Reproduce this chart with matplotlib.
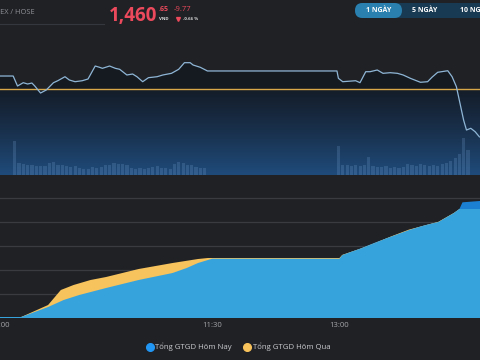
import numpy as np
import matplotlib
matplotlib.use("Agg")
import matplotlib.pyplot as plt
from matplotlib.colors import LinearSegmentedColormap
from matplotlib.patches import FancyBboxPatch
from matplotlib.lines import Line2D

plt.rcParams['font.family'] = ['Open Sans', 'DejaVu Sans']

# ---------------- data ----------------
index_name = "VNINDEX / HOSE"
ref_price = 1470.42
last_price = 1460.65
change = -9.77
change_pct = -0.66

price_times = ["09:00", "09:15", "09:18", "09:22", "09:25", "09:28", "09:30", "09:34", "09:38",
               "09:43", "09:46", "09:51", "09:54", "09:58", "10:03", "10:07", "10:12", "10:15",
               "10:17", "10:22", "10:26", "10:29", "10:34", "10:38", "10:41", "10:45", "10:49",
               "10:55", "10:59", "11:05", "11:10", "11:14", "11:18", "11:20", "11:25", "11:30",
               "13:00", "13:01", "13:04", "13:13", "13:16", "13:20", "13:23", "13:28", "13:32",
               "13:37", "13:42", "13:46", "13:51", "13:58", "14:03", "14:06", "14:10", "14:17",
               "14:20", "14:23", "14:26", "14:28", "14:30", "14:33", "14:36", "14:39"]
price_values = [1473.07, 1473.07, 1471.03, 1471.71, 1471.44, 1471.64, 1471.03, 1469.60, 1470.22,
                1471.71, 1472.11, 1472.93, 1472.26, 1471.91, 1472.11, 1472.46, 1475.11, 1474.85,
                1474.64, 1475.11, 1474.64, 1474.44, 1473.28, 1473.48, 1472.93, 1471.91, 1472.73,
                1472.93, 1473.28, 1473.62, 1474.44, 1475.79, 1475.79, 1475.32, 1474.85, 1474.10,
                1474.10, 1472.60, 1471.91, 1472.11, 1471.71, 1473.95, 1473.95, 1474.30, 1473.62,
                1473.75, 1473.62, 1473.28, 1472.60, 1471.79, 1471.91, 1472.81, 1473.83, 1474.15,
                1472.93, 1470.89, 1466.81, 1464.09, 1462.05, 1462.40, 1461.71, 1460.65]

vol_am_start = "09:15"
vol_am = [3500, 1200, 1100, 1000, 1000, 900, 900, 900, 1200, 1300, 1000, 1000, 900, 800, 900,
          700, 600, 600, 800, 700, 800, 1000, 1000, 1200, 1100, 1100, 1000, 700, 600, 700,
          600, 700, 800, 900, 700, 700, 600, 1100, 1300, 1200, 1000, 1000, 800, 700, 700]
vol_pm_start = "13:00"
vol_pm = [3000, 1000, 1000, 900, 1000, 900, 1000, 1900, 900, 800, 800, 900, 700, 800, 700,
          800, 1100, 1000, 900, 1100, 1000, 900, 1000, 900, 1100, 1200, 1400, 1700, 2200,
          3800, 2600]
vol_step = 3  # minutes per bar

today_times = ["09:00", "09:15", "09:34", "09:45", "09:56", "10:15", "10:38", "11:02", "11:12",
               "11:20", "11:30", "13:00", "13:02", "13:15", "13:25", "13:37", "13:49", "14:00",
               "14:10", "14:21", "14:25", "14:27", "14:39"]
today_values = [208, 208, 2292, 3750, 4792, 6250, 7917, 9375, 10417, 11458, 12350, 12350,
                13100, 14500, 15700, 17000, 18300, 19300, 20000, 21875, 22800, 24100, 24375]
yest_times = ["09:00", "09:15", "09:34", "09:43", "09:52", "10:04", "10:15", "10:38", "11:02",
              "11:20", "11:27", "13:00", "13:02", "13:15", "13:25", "13:37", "13:49", "14:00",
              "14:10", "14:21", "14:25", "14:39"]
yest_values = [208, 208, 2708, 5833, 6875, 7917, 8542, 10208, 11458, 12292, 12500, 12500,
               13150, 14450, 15600, 17050, 18400, 19250, 20050, 21900, 22708, 22708]

x_tick_labels = ["09:00", "11:30", "13:00"]
legend_labels = ["Tổng GTGD Hôm Nay", "Tổng GTGD Hôm Qua"]
range_buttons = ["1 NGÀY", "5 NGÀY", "10 NGÀY"]


def tm(s):
    h, m = s.split(":")
    return int(h) * 60 + int(m) - 540  # minutes since 09:00


# ---------------- style ----------------
BG = "#202125"
RED = "#ec4a5c"
LINE = "#8fb6d6"
REFC = "#d9a849"
C_TODAY = "#1b80d2"
C_LIGHT = "#37a3dd"
C_YEST = "#f7c35c"
GRID = "#3a3b40"

XLIM = (5.84, 339.4)

fig = plt.figure(figsize=(4.8, 3.6), dpi=100, facecolor=BG)

# ---------------- upper price panel ----------------
ax1 = fig.add_axes([0, 1 - 175 / 360, 1, 147 / 360])
ax1.set_facecolor(BG)
y_lo, y_hi = 1452.87, 1482.87
pt = np.array([tm(s) for s in price_times], dtype=float)
pv = np.array(price_values)

cmap = LinearSegmentedColormap.from_list("g", ["#141c28", "#19314d", "#1f4b7b"])
ax1.imshow(np.linspace(0, 1, 256).reshape(-1, 1), extent=[XLIM[0], XLIM[1], y_lo, ref_price],
           origin="upper", aspect="auto", cmap=cmap, zorder=0)
ax1.fill_between(pt, pv, ref_price, where=pv >= ref_price, interpolate=True,
                 color="#151a21", lw=0, zorder=1)
ax1.axhline(ref_price, color=REFC, lw=1.0, zorder=3)
ax1.plot(pt, pv, color=LINE, lw=0.9, zorder=4)
ax1.set_xlim(*XLIM)
ax1.set_ylim(y_lo, y_hi)
ax1.axis("off")

ax1v = ax1.twinx()
am_t = [tm(vol_am_start) + vol_step * i for i in range(len(vol_am))]
pm_t = [tm(vol_pm_start) + vol_step * i for i in range(len(vol_pm))]
ax1v.bar(am_t + pm_t, vol_am + vol_pm, width=2.2, align="edge", color="#7aa6d6",
         alpha=0.22, lw=0)
ax1v.set_ylim(0, max(vol_am + vol_pm) * 147 / 37)
ax1v.set_xlim(*XLIM)
ax1v.axis("off")

# ---------------- lower cumulative value panel ----------------
ax2 = fig.add_axes([0, 1 - 318 / 360, 1, 142 / 360])
ax2.set_facecolor(BG)
grid_t = np.linspace(0, 345, 2000)
tv = np.interp(grid_t, [tm(s) for s in today_times], today_values)
yv = np.interp(grid_t, [tm(s) for s in yest_times], yest_values)
ax2.fill_between(grid_t, 0, tv, color=C_TODAY, lw=0, zorder=2)
ax2.fill_between(grid_t, 0, yv, color=C_YEST, lw=0, zorder=3)
ax2.fill_between(grid_t, 0, np.minimum(tv, yv), color=C_LIGHT, lw=0, zorder=4)
ax2.set_xlim(*XLIM)
ax2.set_ylim(0, 29583)
ax2.set_yticks([5000, 10000, 15000, 20000, 25000])
ax2.yaxis.grid(True, color=GRID, lw=0.9)
ax2.set_axisbelow(True)
ax2.tick_params(axis="y", left=False, labelleft=False)
ax2.set_xticks([tm(s) for s in x_tick_labels])
ax2.set_xticklabels(x_tick_labels, color="#a3a4a8", fontsize=5.6)
ax2.tick_params(axis="x", length=0, pad=3)
for s in ax2.spines.values():
    s.set_visible(False)

handles = [Line2D([], [], marker="o", ls="", color="#2196f3", markersize=5.5),
           Line2D([], [], marker="o", ls="", color="#f9c35b", markersize=5.5)]
fig.legend(handles, legend_labels, loc="center", bbox_to_anchor=(238 / 480, 1 - 347 / 360),
           ncol=2, frameon=False, labelcolor="#c9cacd", fontsize=5.6, handletextpad=0.25,
           columnspacing=1.4, handlelength=1.0)

# ---------------- header overlay ----------------
ax0 = fig.add_axes([0, 0, 1, 1], zorder=10)
ax0.set_xlim(0, 480)
ax0.set_ylim(360, 0)
ax0.axis("off")
ax0.patch.set_visible(False)

ax0.text(35, 13, index_name, ha="right", va="center", color="#8d9097", fontsize=5.3)
ax0.plot([0, 104], [24, 24], color="#34373d", lw=0.8)

price_str = f"{last_price:,.2f}"
main_str, dec_str = price_str.split(".")
ax0.text(109, 15.5, main_str, ha="left", va="center", color=RED, fontsize=13.5,
         fontweight="bold")
ax0.text(159, 9.5, "." + dec_str, ha="left", va="center", color=RED, fontsize=5,
         fontweight="bold")
ax0.text(159, 18.5, "VND", ha="left", va="center", color="#dddddd", fontsize=3.2,
         fontweight="bold")
ax0.text(174, 9.5, f"{change:.2f}", ha="left", va="center", color=RED, fontsize=5.5)
ax0.plot(177.5, 19, marker="v", color=RED, markersize=2.8)
ax0.text(183, 18.5, f"{change_pct:.2f} %", ha="left", va="center", color="#dddddd",
         fontsize=3.2, fontweight="bold")

ax0.add_patch(FancyBboxPatch((355, 3), 140, 15, boxstyle="round,pad=0,rounding_size=7.5",
                             fc="#183a52", ec="none"))
ax0.add_patch(FancyBboxPatch((355, 3), 47, 15, boxstyle="round,pad=0,rounding_size=7.5",
                             fc="#2a80ae", ec="none"))
for label, cx in zip(range_buttons, [378.5, 425, 475]):
    ax0.text(cx, 10.5, label, ha="center", va="center", color="white", fontsize=5.0,
             fontweight="bold")

fig.savefig("out.png", dpi=100, facecolor=BG)
